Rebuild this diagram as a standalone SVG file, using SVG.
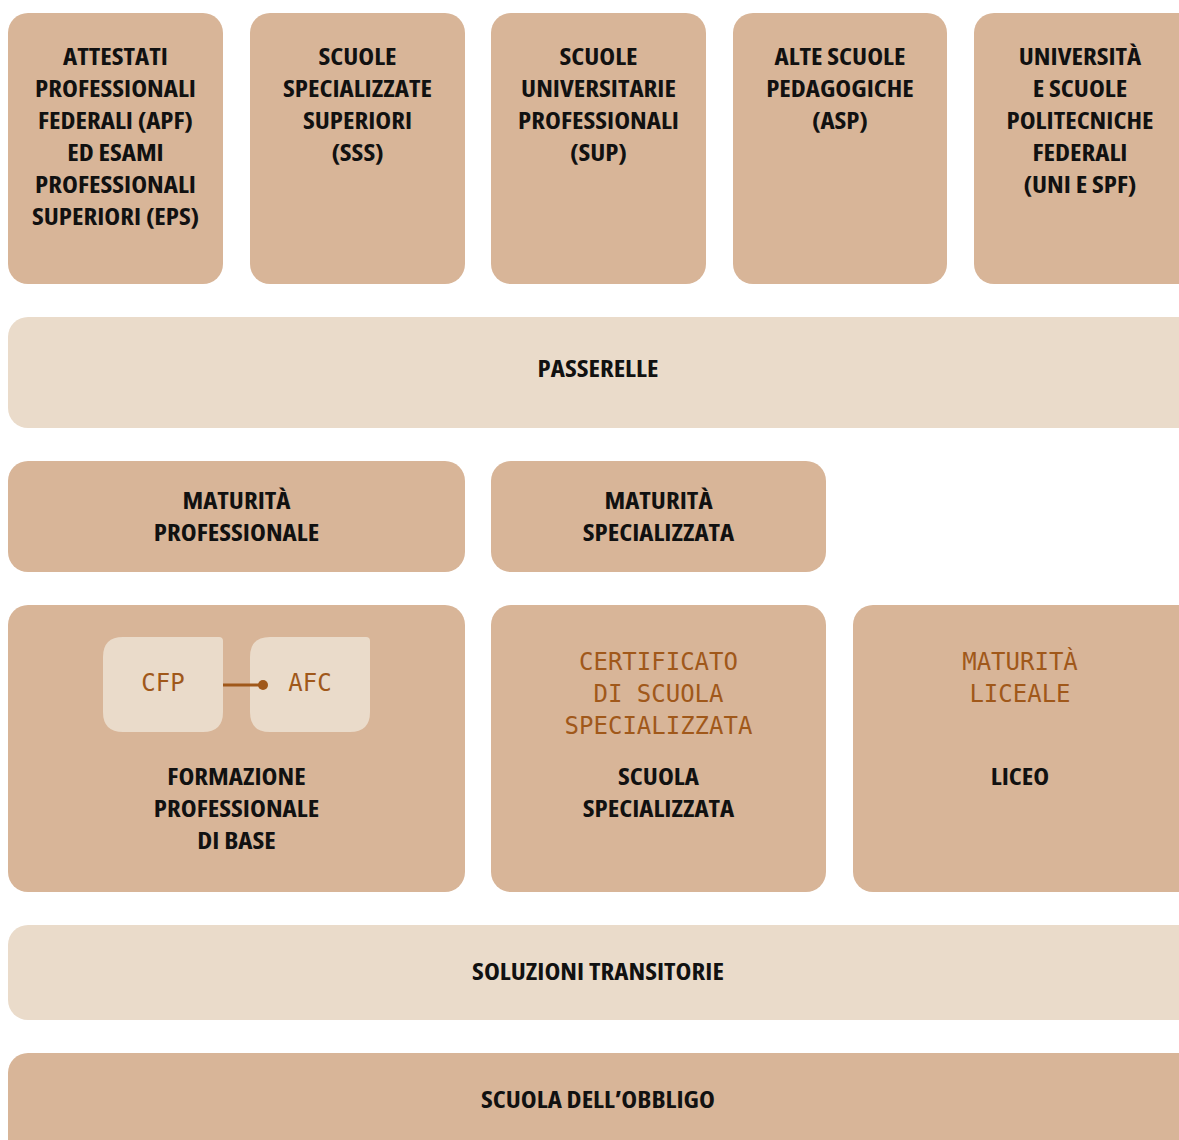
<svg xmlns="http://www.w3.org/2000/svg" width="1179" height="1140" viewBox="0 0 1179 1140">
<style>
.box{fill:#d8b598}
.lite{fill:#eadbca}
.t{font-family:"Open Sans","DejaVu Sans Condensed","Liberation Sans Narrow",sans-serif;font-weight:700;font-size:24px;font-stretch:condensed;fill:#111;text-anchor:middle}
.m{font-family:"DejaVu Sans Mono","Liberation Mono",monospace;font-size:24px;fill:#a0581a;text-anchor:middle}
</style>
<rect width="1179" height="1140" fill="#fff"/>
<g id="apf"><rect class="box" x="8" y="13" width="215" height="271" rx="20"/>
<text class="t" transform="matrix(1.12 0 0 1 -13.86 0)"><tspan x="115.5" y="65">ATTESTATI</tspan><tspan x="115.5" y="97">PROFESSIONALI</tspan><tspan x="115.5" y="129">FEDERALI (APF)</tspan><tspan x="115.5" y="161">ED ESAMI</tspan><tspan x="115.5" y="193">PROFESSIONALI</tspan><tspan x="115.5" y="225">SUPERIORI (EPS)</tspan></text></g>
<g id="sss"><rect class="box" x="250" y="13" width="215" height="271" rx="20"/>
<text class="t" transform="matrix(1.12 0 0 1 -42.9 0)"><tspan x="357.5" y="65">SCUOLE</tspan><tspan x="357.5" y="97">SPECIALIZZATE</tspan><tspan x="357.5" y="129">SUPERIORI</tspan><tspan x="357.5" y="161">(SSS)</tspan></text></g>
<g id="sup"><rect class="box" x="491" y="13" width="215" height="271" rx="20"/>
<text class="t" transform="matrix(1.12 0 0 1 -71.82 0)"><tspan x="598.5" y="65">SCUOLE</tspan><tspan x="598.5" y="97">UNIVERSITARIE</tspan><tspan x="598.5" y="129">PROFESSIONALI</tspan><tspan x="598.5" y="161">(SUP)</tspan></text></g>
<g id="asp"><rect class="box" x="733" y="13" width="214" height="271" rx="20"/>
<text class="t" transform="matrix(1.12 0 0 1 -100.8 0)"><tspan x="840" y="65">ALTE SCUOLE</tspan><tspan x="840" y="97">PEDAGOGICHE</tspan><tspan x="840" y="129">(ASP)</tspan></text></g>
<g id="uni"><rect class="box" x="974" y="13" width="230" height="271" rx="20"/>
<text class="t" transform="matrix(1.12 0 0 1 -129.6 0)"><tspan x="1080" y="65">UNIVERSITÀ</tspan><tspan x="1080" y="97">E SCUOLE</tspan><tspan x="1080" y="129">POLITECNICHE</tspan><tspan x="1080" y="161">FEDERALI</tspan><tspan x="1080" y="193">(UNI E SPF)</tspan></text></g>
<g id="passerelle"><rect class="lite" x="8" y="317" width="1200" height="111" rx="20"/>
<text class="t" transform="matrix(1.12 0 0 1 -71.76 0)" x="598" y="377">PASSERELLE</text></g>
<g id="matpro"><rect class="box" x="8" y="461" width="457" height="111" rx="20"/>
<text class="t" transform="matrix(1.12 0 0 1 -28.38 0)"><tspan x="236.5" y="509">MATURITÀ</tspan><tspan x="236.5" y="541">PROFESSIONALE</tspan></text></g>
<g id="matspec"><rect class="box" x="491" y="461" width="335" height="111" rx="20"/>
<text class="t" transform="matrix(1.12 0 0 1 -79.02 0)"><tspan x="658.5" y="509">MATURITÀ</tspan><tspan x="658.5" y="541">SPECIALIZZATA</tspan></text></g>
<g id="fpb"><rect class="box" x="8" y="605" width="457" height="287" rx="20"/>
<text class="t" transform="matrix(1.12 0 0 1 -28.38 0)"><tspan x="236.5" y="785">FORMAZIONE</tspan><tspan x="236.5" y="817">PROFESSIONALE</tspan><tspan x="236.5" y="849">DI BASE</tspan></text></g>
<g id="cfp"><path class="lite" d="M123 637H219Q223 637 223 641V712Q223 732 203 732H123Q103 732 103 712V657Q103 637 123 637Z"/>
<text class="m" x="163" y="691">CFP</text></g>
<g id="afc"><path class="lite" d="M270 637H366Q370 637 370 641V712Q370 732 350 732H270Q250 732 250 712V657Q250 637 270 637Z"/>
<text class="m" x="310" y="691">AFC</text></g>
<g id="ss"><rect class="box" x="491" y="605" width="335" height="287" rx="20"/>
<text class="m"><tspan x="658.5" y="670">CERTIFICATO</tspan><tspan x="658.5" y="702">DI SCUOLA</tspan><tspan x="658.5" y="734">SPECIALIZZATA</tspan></text>
<text class="t" transform="matrix(1.12 0 0 1 -79.02 0)"><tspan x="658.5" y="785">SCUOLA</tspan><tspan x="658.5" y="817">SPECIALIZZATA</tspan></text></g>
<g id="liceo"><rect class="box" x="853" y="605" width="350" height="287" rx="20"/>
<text class="m"><tspan x="1020" y="670">MATURITÀ</tspan><tspan x="1020" y="702">LICEALE</tspan></text>
<text class="t" transform="matrix(1.12 0 0 1 -122.4 0)" x="1020" y="785">LICEO</text></g>
<g id="sol"><rect class="lite" x="8" y="925" width="1200" height="95" rx="20"/>
<text class="t" transform="matrix(1.12 0 0 1 -71.76 0)" x="598" y="980">SOLUZIONI TRANSITORIE</text></g>
<g id="obb"><rect class="box" x="8" y="1053" width="1200" height="110" rx="20"/>
<text class="t" transform="matrix(1.12 0 0 1 -71.76 0)" x="598" y="1108">SCUOLA DELL’OBBLIGO</text></g>
<g id="connectors"><line x1="223" y1="685" x2="263" y2="685" stroke="#a0581a" stroke-width="3"/><circle cx="263" cy="685" r="5" fill="#a0581a"/></g>
</svg>
